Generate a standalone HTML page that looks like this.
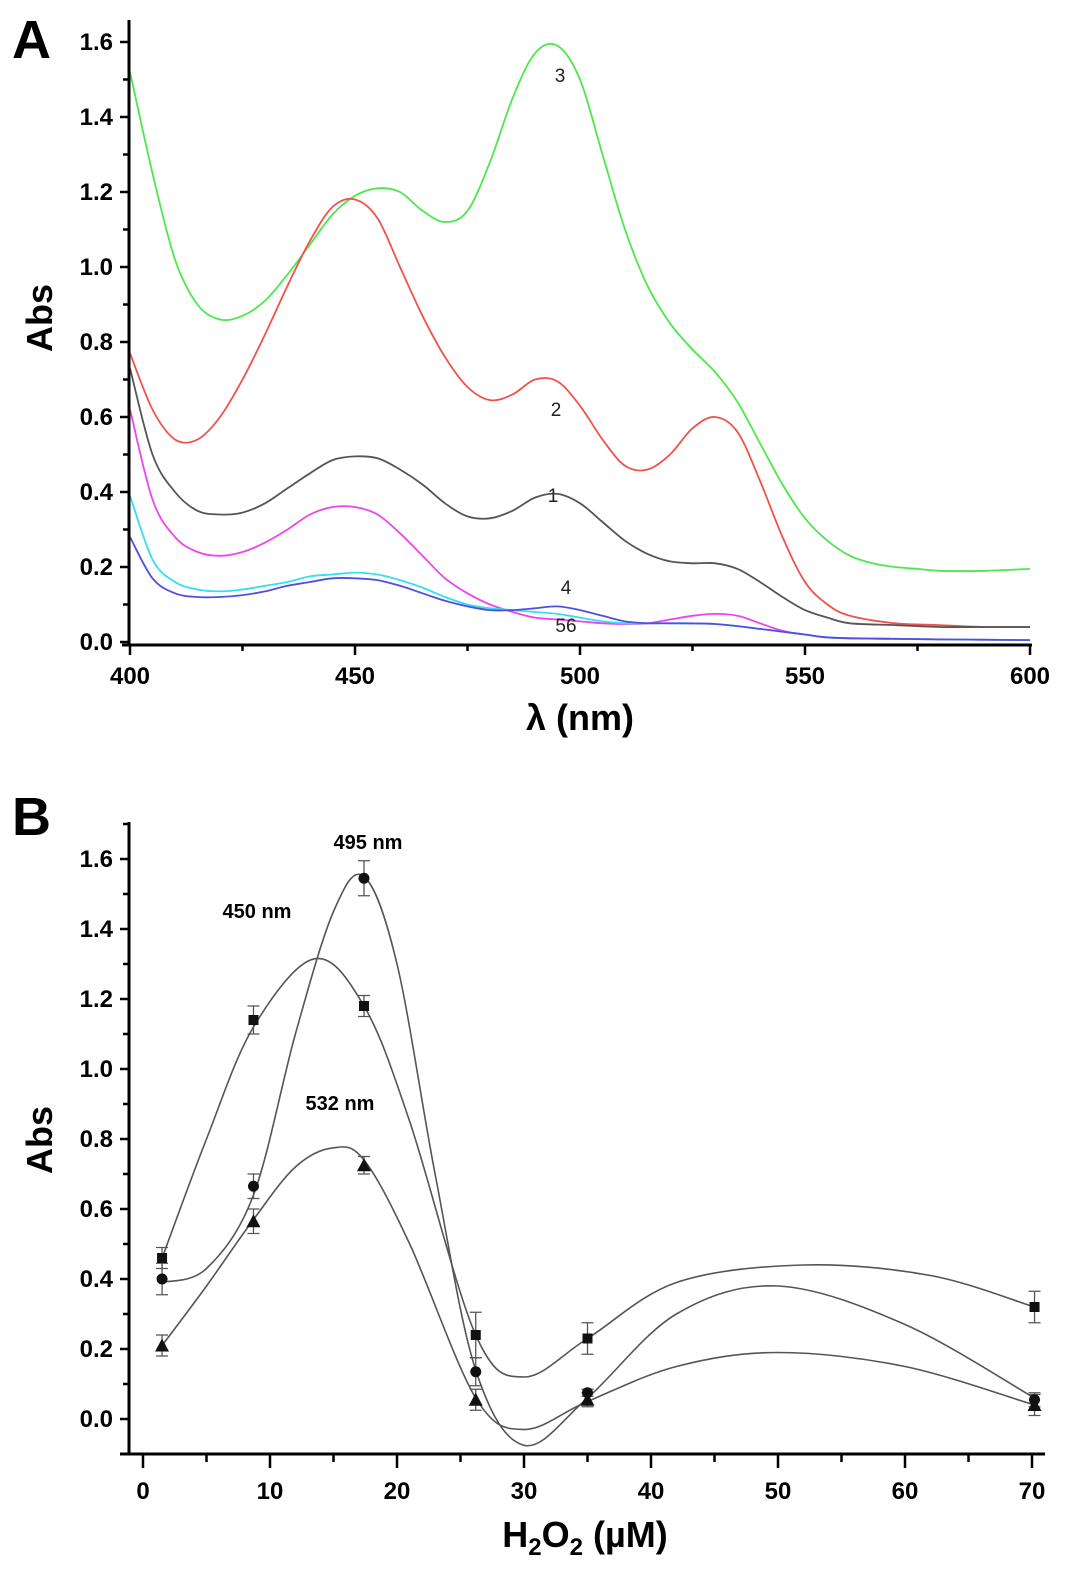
<!DOCTYPE html>
<html><head><meta charset="utf-8"><style>
body{margin:0;background:#fff}
svg text{font-family:"Liberation Sans",Arial,sans-serif}
</style></head><body>
<svg id="fig" width="1087" height="1566" viewBox="0 0 1087 1566" xmlns="http://www.w3.org/2000/svg">
<text x="12" y="58" font-size="54" font-weight="bold">A</text>
<text x="12" y="835" font-size="54" font-weight="bold">B</text>
<g id="pa"></g>
<g id="pb"></g>
</svg>
<script>
// ---- Panel A data ----
const aXTicks = [400,450,500,550,600];
const aYTicks = [0.0,0.2,0.4,0.6,0.8,1.0,1.2,1.4,1.6];
const aYTickLabels = ["0.0","0.2","0.4","0.6","0.8","1.0","1.2","1.4","1.6"];
const s3 = [[400,1.52],[405,1.25],[410,1.02],[415,0.9],[420,0.86],[425,0.87],[430,0.91],[435,0.98],[440,1.06],[445,1.14],[450,1.19],[455,1.21],[460,1.2],[465,1.15],[470,1.12],[475,1.15],[480,1.28],[485,1.45],[490,1.57],[495,1.59],[500,1.5],[505,1.3],[510,1.1],[515,0.95],[520,0.85],[525,0.78],[530,0.72],[535,0.64],[540,0.53],[545,0.42],[550,0.33],[555,0.27],[560,0.23],[565,0.21],[570,0.2],[575,0.195],[580,0.19],[590,0.19],[600,0.195]];
const s2 = [[400,0.77],[405,0.62],[410,0.54],[415,0.54],[420,0.6],[425,0.7],[430,0.82],[435,0.95],[440,1.07],[445,1.16],[450,1.18],[455,1.13],[460,1.0],[465,0.87],[470,0.76],[475,0.68],[480,0.645],[485,0.66],[490,0.7],[495,0.695],[500,0.63],[505,0.54],[510,0.47],[515,0.46],[520,0.5],[525,0.57],[530,0.6],[535,0.56],[540,0.43],[545,0.28],[550,0.16],[555,0.1],[560,0.07],[570,0.05],[580,0.045],[590,0.04],[600,0.04]];
const s1 = [[400,0.73],[405,0.5],[410,0.4],[415,0.35],[420,0.34],[425,0.345],[430,0.37],[435,0.41],[440,0.45],[445,0.485],[450,0.495],[455,0.49],[460,0.46],[465,0.42],[470,0.37],[475,0.335],[480,0.33],[485,0.35],[490,0.385],[495,0.395],[500,0.37],[505,0.32],[510,0.27],[515,0.235],[520,0.215],[525,0.21],[530,0.21],[535,0.195],[540,0.16],[545,0.12],[550,0.085],[555,0.065],[560,0.05],[570,0.045],[580,0.04],[590,0.04],[600,0.04]];
const s4 = [[400,0.62],[405,0.38],[410,0.28],[415,0.24],[420,0.23],[425,0.24],[430,0.265],[435,0.3],[440,0.34],[445,0.36],[450,0.36],[455,0.34],[460,0.29],[465,0.23],[470,0.17],[475,0.13],[480,0.1],[485,0.08],[490,0.065],[495,0.06],[500,0.055],[505,0.05],[510,0.048],[515,0.05],[520,0.06],[525,0.07],[530,0.075],[535,0.07],[540,0.05],[545,0.03],[550,0.02],[560,0.01],[600,0.005]];
const s5 = [[400,0.39],[405,0.22],[410,0.16],[415,0.14],[420,0.135],[425,0.14],[430,0.15],[435,0.16],[440,0.175],[445,0.18],[450,0.185],[455,0.18],[460,0.165],[465,0.145],[470,0.12],[475,0.1],[480,0.09],[485,0.085],[490,0.08],[495,0.075],[500,0.065],[505,0.055],[510,0.05],[515,0.05],[520,0.05],[530,0.048],[540,0.035],[550,0.02],[560,0.01],[600,0.005]];
const s6 = [[400,0.28],[405,0.17],[410,0.13],[415,0.12],[420,0.12],[425,0.125],[430,0.135],[435,0.15],[440,0.16],[445,0.17],[450,0.17],[455,0.165],[460,0.15],[465,0.13],[470,0.11],[475,0.095],[480,0.085],[485,0.085],[490,0.09],[495,0.095],[500,0.085],[505,0.07],[510,0.055],[515,0.05],[520,0.05],[530,0.048],[540,0.035],[550,0.02],[560,0.01],[600,0.005]];
// ---- Panel B data ----
const bConc = [1.5,8.7,17.4,26.2,35,70.2];
const b450 = [0.46,1.14,1.18,0.24,0.23,0.32];
const b450err = [0.03,0.04,0.03,0.065,0.045,0.045];
const b495 = [0.40,0.665,1.545,0.135,0.075,0.055];
const b495err = [0.045,0.035,0.05,0.04,0.01,0.02];
const b532 = [0.21,0.565,0.725,0.055,0.055,0.04];
const b532err = [0.03,0.035,0.025,0.03,0.02,0.03];
const fit450 = [[1.5,0.46],[5,0.8],[8.7,1.12],[13.5,1.315],[17.4,1.18],[21,0.85],[26.2,0.24],[30,0.12],[35,0.23],[42,0.39],[52,0.44],[62,0.41],[70.2,0.32]];
const fit495 = [[1.5,0.39],[5,0.43],[8.7,0.64],[12,1.1],[15,1.45],[17.4,1.55],[20,1.3],[23,0.7],[26.2,0.14],[30,-0.075],[35,0.06],[42,0.3],[50,0.38],[60,0.27],[70.2,0.06]];
const fit532 = [[1.5,0.21],[5,0.38],[8.7,0.57],[12,0.72],[15,0.775],[17.4,0.74],[21,0.5],[26.2,0.06],[30,-0.03],[35,0.05],[42,0.15],[50,0.19],[60,0.15],[70.2,0.04]];
const bXTicks = [0,10,20,30,40,50,60,70];
const bYTicks = [0.0,0.2,0.4,0.6,0.8,1.0,1.2,1.4,1.6];

const NS="http://www.w3.org/2000/svg";
function mk(parent,tag,attrs,text){const e=document.createElementNS(NS,tag);for(const k in attrs)e.setAttribute(k,attrs[k]);if(text!==undefined)e.textContent=text;parent.appendChild(e);return e;}
function smooth(pts){let d="M"+pts[0][0].toFixed(1)+","+pts[0][1].toFixed(1);for(let i=0;i<pts.length-1;i++){const p0=pts[Math.max(0,i-1)],p1=pts[i],p2=pts[i+1],p3=pts[Math.min(pts.length-1,i+2)];const c1=[p1[0]+(p2[0]-p0[0])/6,p1[1]+(p2[1]-p0[1])/6],c2=[p2[0]-(p3[0]-p1[0])/6,p2[1]-(p3[1]-p1[1])/6];d+=" C"+c1[0].toFixed(1)+","+c1[1].toFixed(1)+" "+c2[0].toFixed(1)+","+c2[1].toFixed(1)+" "+p2[0].toFixed(1)+","+p2[1].toFixed(1);}return d;}

// Panel A
const pa=document.getElementById('pa');
const ax=v=>130+(v-400)*4.5, ay=v=>642-v*375;
const seriesA=[[s3,"#4de84d","spectrum-3"],[s2,"#f0524a","spectrum-2"],[s1,"#555","spectrum-1"],[s4,"#ee44ee","spectrum-4"],[s5,"#33e0f0","spectrum-5"],[s6,"#5050e0","spectrum-6"]];
seriesA.forEach(([s,c,n])=>{const p=mk(pa,"path",{d:smooth(s.map(q=>[ax(q[0]),ay(q[1])])),fill:"none",stroke:c,"stroke-width":1.8});

});
mk(pa,"line",{x1:129,y1:20,x2:129,y2:646,stroke:"#000","stroke-width":3});
mk(pa,"line",{x1:122,y1:645,x2:1032,y2:645,stroke:"#000","stroke-width":3});
for(let v=0;v<=1.6001;v+=0.1){const maj=Math.round(v*10)%2===0;mk(pa,"line",{x1:maj?120:123,y1:ay(v),x2:129,y2:ay(v),stroke:"#000","stroke-width":2.5});}
aYTicks.forEach((v,i)=>{const t=mk(pa,"text",{x:113,y:ay(v)+8,"font-size":24,"font-weight":"bold","text-anchor":"end"},aYTickLabels[i]);

});
for(let v=400;v<=600;v+=25){const maj=v%50===0;mk(pa,"line",{x1:ax(v),y1:645,x2:ax(v),y2:maj?655:651,stroke:"#000","stroke-width":2.5});}
aXTicks.forEach(v=>{const t=mk(pa,"text",{x:ax(v),y:684,"font-size":24,"font-weight":"bold","text-anchor":"middle"},String(v));

});
const atl=mk(pa,"text",{x:580,y:730,"font-size":36,"font-weight":"bold","text-anchor":"middle"},"λ (nm)");


const ayl=mk(pa,"text",{transform:"translate(52,318) rotate(-90)","font-size":36,"font-weight":"bold","text-anchor":"middle"},"Abs");


[["3",560,82],["2",556,416],["1",553,502],["4",566,594],["56",566,632]].forEach(([s,x,y])=>{const t=mk(pa,"text",{x:x,y:y,"font-size":19,"text-anchor":"middle",fill:"#222"},s);

});

// Panel B
const pb=document.getElementById('pb');
const bx=v=>143+v*12.7, by=v=>1419-v*350;
[[fit450,"fit-450"],[fit495,"fit-495"],[fit532,"fit-532"]].forEach(([f,n])=>{const p=mk(pb,"path",{d:smooth(f.map(q=>[bx(q[0]),by(q[1])])),fill:"none",stroke:"#555","stroke-width":1.6});

});
function errs(vals,e){bConc.forEach((c,i)=>{const x=bx(c),y1=by(vals[i]+e[i]),y2=by(vals[i]-e[i]);mk(pb,"path",{d:`M${x},${y1}V${y2}M${x-6},${y1}H${x+6}M${x-6},${y2}H${x+6}`,stroke:"#555","stroke-width":1.3,fill:"none"});});}
errs(b450,b450err);errs(b495,b495err);errs(b532,b532err);
bConc.forEach((c,i)=>{const x=bx(c);
const sq=mk(pb,"rect",{x:x-5,y:by(b450[i])-5,width:10,height:10,fill:"#111"});


const ci=mk(pb,"circle",{cx:x,cy:by(b495[i]),r:5.5,fill:"#111"});


const y=by(b532[i]);
const tr=mk(pb,"polygon",{points:`${x},${y-7} ${x-7},${y+6} ${x+7},${y+6}`,fill:"#111"});

});
mk(pb,"line",{x1:129,y1:822,x2:129,y2:1455,stroke:"#000","stroke-width":3});
mk(pb,"line",{x1:120,y1:1454,x2:1045,y2:1454,stroke:"#000","stroke-width":3});
for(let v=-0.1;v<=1.7001;v+=0.1){const maj=Math.round(v*10)%2===0;mk(pb,"line",{x1:maj?120:123,y1:by(v),x2:129,y2:by(v),stroke:"#000","stroke-width":2.5});}
bYTicks.forEach(v=>{const t=mk(pb,"text",{x:113,y:by(v)+8,"font-size":24,"font-weight":"bold","text-anchor":"end"},v.toFixed(1));

});
for(let v=0;v<=70;v+=5){const maj=v%10===0;mk(pb,"line",{x1:bx(v),y1:1454,x2:bx(v),y2:maj?1468:1462,stroke:"#000","stroke-width":2.5});}
bXTicks.forEach(v=>{const t=mk(pb,"text",{x:bx(v),y:1499,"font-size":24,"font-weight":"bold","text-anchor":"middle"},String(v));

});
const bxt=mk(pb,"text",{x:585,y:1547,"font-size":36,"font-weight":"bold","text-anchor":"middle"});
bxt.innerHTML='H<tspan font-size="24" dy="8">2</tspan><tspan dy="-8">O</tspan><tspan font-size="24" dy="8">2</tspan><tspan dy="-8"> (µM)</tspan>';


const byl=mk(pb,"text",{transform:"translate(52,1140) rotate(-90)","font-size":36,"font-weight":"bold","text-anchor":"middle"},"Abs");


[["495 nm",368,849],["450 nm",257,918],["532 nm",340,1110]].forEach(([s,x,y])=>{const t=mk(pb,"text",{x:x,y:y,"font-size":20,"font-weight":"bold","text-anchor":"middle"},s);

});
</script>
</body></html>
